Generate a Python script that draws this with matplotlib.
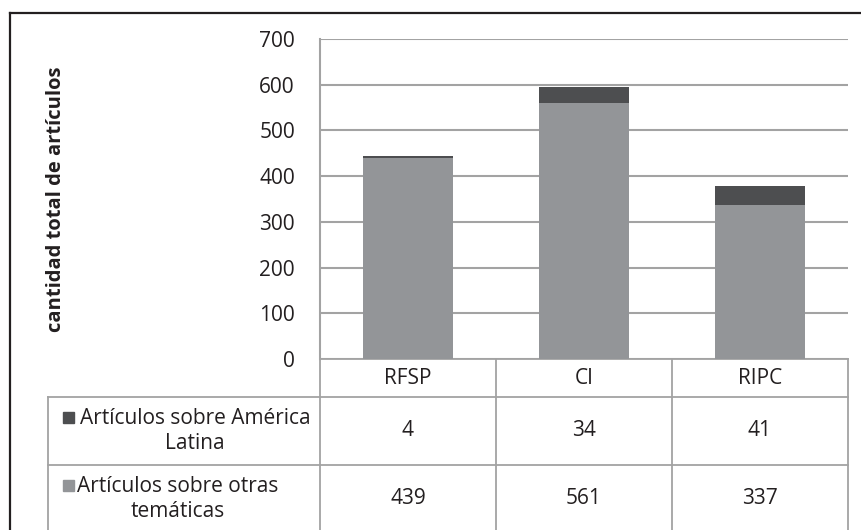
import numpy as np
import matplotlib
matplotlib.use("Agg")
import matplotlib.pyplot as plt
from matplotlib.patches import Rectangle

plt.rcParams['font.family'] = ['Open Sans', 'DejaVu Sans']

revistas = ["RFSP", "CI", "RIPC"]
america_latina = [4, 34, 41]
otras_tematicas = [439, 561, 337]
series = ["Artículos sobre América\nLatina", "Artículos sobre otras\ntemáticas"]
y_ticks = [0, 100, 200, 300, 400, 500, 600, 700]

c_dark = "#4d4e50"
c_light = "#939598"
c_grid = "#a3a3a3"
c_text = "#231f20"
fs = 15

W, H = 861, 530
fig = plt.figure(figsize=(W / 100, H / 100), dpi=100)

# plot area in pixels
px_l, px_r, px_t, px_b = 320, 848, 39, 359
ax = fig.add_axes([px_l / W, 1 - px_b / H, (px_r - px_l) / W, (px_b - px_t) / H])

x = np.arange(len(revistas))
ax.bar(x, otras_tematicas, width=0.51, color=c_light, zorder=3)
ax.bar(x, america_latina, bottom=otras_tematicas, width=0.51, color=c_dark, zorder=3)

ax.set_xlim(-0.5, len(revistas) - 0.5)
ax.set_ylim(0, 700)
ax.set_yticks(y_ticks)
ax.set_yticklabels([str(v) for v in y_ticks], fontsize=fs, color=c_text)
ax.set_xticks([])
ax.tick_params(axis='y', length=0, pad=18)
ax.yaxis.grid(True, color=c_grid, linewidth=1.5, zorder=0)
for s in ["top", "right", "bottom"]:
    ax.spines[s].set_visible(False)
ax.spines["left"].set_color(c_grid)
ax.spines["left"].set_linewidth(1.5)

fig.text(56 / W, 1 - 199 / H, "cantidad total de artículos", rotation=90,
         fontsize=14.5, fontweight="bold", color=c_text, ha="center", va="center")

# overlay for table and frame, in pixel coordinates
ov = fig.add_axes([0, 0, 1, 1], zorder=-1)
ov.set_xlim(0, W)
ov.set_ylim(H, 0)
ov.axis("off")

# outer frame
ov.plot([10, 10], [H + 5, 13], color=c_text, linewidth=1.6)
ov.plot([10, W + 5], [13, 13], color=c_text, linewidth=1.6)

# data table
cat_w = (px_r - px_l) / len(revistas)
col_edges = [px_l + i * cat_w for i in range(len(revistas) + 1)]
row_edges = [px_b, 397, 465, 533]
tleft = 48
lw = 1.3
ov.plot([px_l, px_r], [row_edges[0], row_edges[0]], color=c_grid, lw=lw)
for yy in row_edges[1:3]:
    ov.plot([tleft, px_r], [yy, yy], color=c_grid, lw=lw)
for xx in col_edges:
    ov.plot([xx, xx], [row_edges[0], H + 5], color=c_grid, lw=lw)
ov.plot([tleft, tleft], [row_edges[1], H + 5], color=c_grid, lw=lw)

for i, name in enumerate(revistas):
    cx = (col_edges[i] + col_edges[i + 1]) / 2
    ov.text(cx, (row_edges[0] + row_edges[1]) / 2, name, fontsize=fs,
            color=c_text, ha="center", va="center")

rows = [america_latina, otras_tematicas]
colors = [c_dark, c_light]
label_cx = [195, 178]
for r, vals in enumerate(rows):
    cy = (row_edges[r + 1] + row_edges[r + 2]) / 2
    ov.add_patch(Rectangle((63, cy - 14 - 5.5), 11, 11, color=colors[r]))
    ov.text(label_cx[r], cy, series[r], fontsize=fs, color=c_text,
            ha="center", va="center", multialignment="center", linespacing=1.3)
    for i, v in enumerate(vals):
        cx = (col_edges[i] + col_edges[i + 1]) / 2
        ov.text(cx, cy, str(v), fontsize=fs, color=c_text, ha="center", va="center")

fig.savefig("out.png", dpi=100)
